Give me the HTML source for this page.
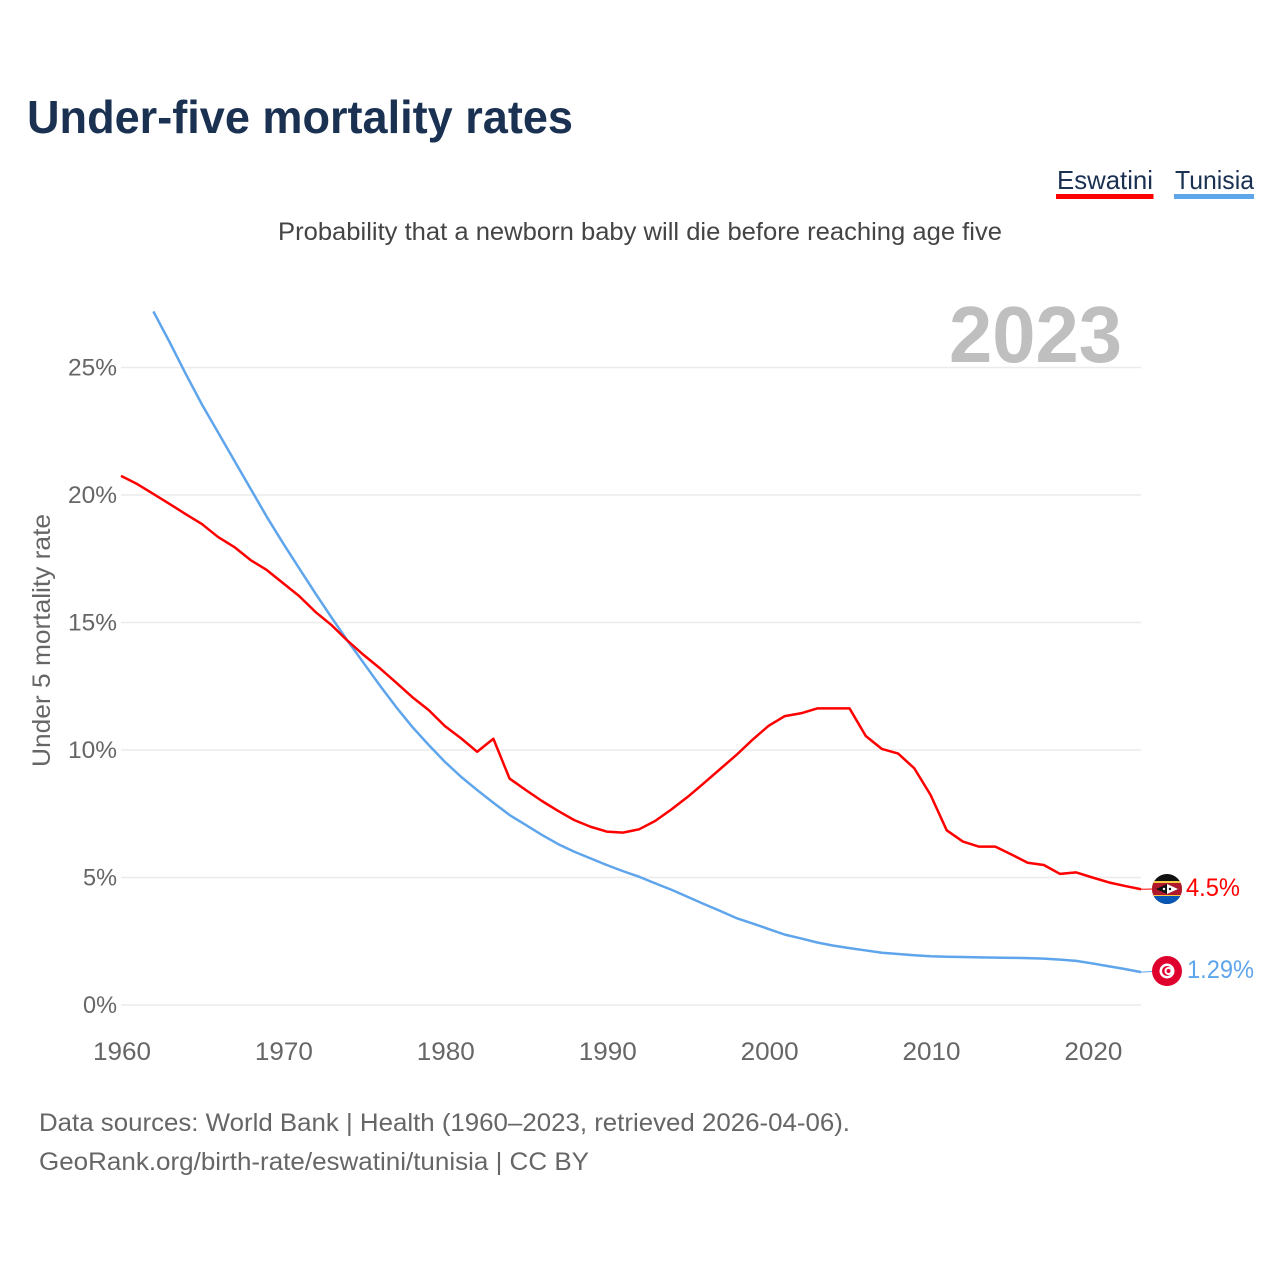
<!DOCTYPE html>
<html lang="en">
<head>
<meta charset="utf-8">
<title>Under-five mortality rates</title>
<style>
html,body{margin:0;padding:0;background:#fff;}
svg{display:block;}
text{font-family:"Liberation Sans",sans-serif;}
</style>
</head>
<body>
<svg id="chart" xmlns="http://www.w3.org/2000/svg" width="1280" height="1280" viewBox="0 0 1280 1280">
  <defs>
    <clipPath id="flag-clip-sz"><circle cx="1167" cy="889" r="15"/></clipPath>
    <clipPath id="flag-clip-tn"><circle cx="1167" cy="971" r="15"/></clipPath>
  </defs>
  <rect width="1280" height="1280" fill="#fff"/>
  <text x="27" y="133" font-size="46" font-weight="700" fill="#1a3152" textLength="546" lengthAdjust="spacingAndGlyphs">Under-five mortality rates</text>
  <text x="1057" y="189" font-size="26" fill="#1a3152" textLength="96" lengthAdjust="spacingAndGlyphs">Eswatini</text>
  <rect x="1056" y="194" width="97.5" height="5" fill="#ff0000"/>
  <text x="1175" y="189" font-size="26" fill="#1a3152" textLength="79" lengthAdjust="spacingAndGlyphs">Tunisia</text>
  <rect x="1174" y="194" width="80" height="5" fill="#5fa5ec"/>
  <text x="278" y="240" font-size="25" fill="#444" textLength="724" lengthAdjust="spacingAndGlyphs">Probability that a newborn baby will die before reaching age five</text>
  <g id="grid"></g>
  <g id="y-ticks"></g>
  <g id="x-ticks"></g>
  <text transform="translate(50,640.5) rotate(-90)" text-anchor="middle" font-size="25" fill="#666" textLength="253" lengthAdjust="spacingAndGlyphs">Under 5 mortality rate</text>
  <text x="949" y="362" font-size="80" font-weight="700" fill="#bfbfbf" textLength="173" lengthAdjust="spacingAndGlyphs">2023</text>
  <g id="series"></g>

  <g clip-path="url(#flag-clip-sz)">
    <rect x="1152" y="874" width="30" height="30" fill="#111"/>
    <rect x="1152" y="881" width="30" height="16" fill="#f6c945"/>
    <rect x="1152" y="883" width="30" height="12" fill="#b0182c"/>
    <rect x="1152" y="896" width="30" height="8" fill="#0a56b4"/>
    <path d="M1156 889 L1167 884 L1178 889 L1167 894 Z" fill="#111"/>
    <path d="M1167 884 L1178 889 L1167 894 Z" fill="#fff"/>
    <circle cx="1164" cy="889" r="1.2" fill="#fff"/>
    <circle cx="1170" cy="889" r="1.2" fill="#111"/>
  </g>
  <g clip-path="url(#flag-clip-tn)">
    <rect x="1152" y="956" width="30" height="30" fill="#e0002d"/>
    <circle cx="1167" cy="971" r="7.5" fill="#fff"/>
    <circle cx="1167" cy="971" r="5" fill="#e0002d"/>
    <circle cx="1168.5" cy="971" r="4" fill="#fff"/>
    <circle cx="1168.5" cy="971" r="2" fill="#e0002d"/>
  </g>
  <g id="end-labels"></g>

  <text x="39" y="1131" font-size="25" fill="#666" textLength="811" lengthAdjust="spacingAndGlyphs">Data sources: World Bank | Health (1960–2023, retrieved 2026-04-06).</text>
  <text x="39" y="1170" font-size="25" fill="#666" textLength="550" lengthAdjust="spacingAndGlyphs">GeoRank.org/birth-rate/eswatini/tunisia | CC BY</text>
</svg>
<script>
const firstYear = 1960;
const eswatiniValues = [20.75,20.43,20.04,19.65,19.25,18.86,18.35,17.96,17.45,17.06,16.55,16.04,15.42,14.9,14.28,13.72,13.2,12.64,12.07,11.57,10.94,10.46,9.93,10.44,8.88,8.43,8.0,7.61,7.25,6.99,6.8,6.76,6.89,7.22,7.67,8.16,8.7,9.25,9.8,10.4,10.95,11.33,11.44,11.63,11.63,11.63,10.55,10.04,9.86,9.28,8.24,6.85,6.41,6.21,6.21,5.9,5.58,5.49,5.14,5.2,5.0,4.81,4.67,4.54];
const tunisiaStartYear = 1962;
const tunisiaValues = [27.2,26.0,24.75,23.55,22.45,21.35,20.25,19.15,18.12,17.13,16.15,15.2,14.28,13.4,12.52,11.68,10.9,10.2,9.54,8.95,8.43,7.93,7.45,7.06,6.67,6.31,6.01,5.75,5.49,5.25,5.03,4.77,4.52,4.24,3.96,3.69,3.41,3.2,2.98,2.76,2.61,2.45,2.33,2.23,2.14,2.05,2.0,1.95,1.91,1.89,1.88,1.87,1.86,1.85,1.84,1.82,1.78,1.73,1.63,1.52,1.41,1.29];
const yTickValues = [0,5,10,15,20,25];
const yTickLabels = ["0%","5%","10%","15%","20%","25%"];
const xTickYears = [1960,1970,1980,1990,2000,2010,2020];
const xTickLabels = ["1960","1970","1980","1990","2000","2010","2020"];
const eswatiniEndLabel = "4.5%";
const tunisiaEndLabel = "1.29%";

const NS = "http://www.w3.org/2000/svg";
const xOf = function (year) { return 121 + (year - 1960) * (1020 / 63); };
const yOf = function (value) { return 1005 - value * 25.5; };

function svgEl(tag, parentId) {
  const el = document.createElementNS(NS, tag);
  document.getElementById(parentId).appendChild(el);
  return el;
}

yTickValues.forEach(function (v, i) {
  const line = svgEl("line", "grid");
  
  
  line.setAttribute("x1", 121);
  line.setAttribute("x2", 1141);
  line.setAttribute("y1", yOf(v));
  line.setAttribute("y2", yOf(v));
  line.setAttribute("stroke", "#ebebeb");
  line.setAttribute("stroke-width", 1.5);

  const label = svgEl("text", "y-ticks");
  
  
  label.setAttribute("x", 117);
  label.setAttribute("y", yOf(v) + 7.8);
  label.setAttribute("text-anchor", "end");
  label.setAttribute("font-size", 24);
  label.setAttribute("fill", "#666");
  label.setAttribute("textLength", yTickLabels[i].length === 3 ? 49 : 34);
  label.setAttribute("lengthAdjust", "spacingAndGlyphs");
  label.textContent = yTickLabels[i];
});

xTickYears.forEach(function (yr, i) {
  const label = svgEl("text", "x-ticks");
  
  
  label.setAttribute("x", xOf(yr) + 1);
  label.setAttribute("y", 1060);
  label.setAttribute("text-anchor", "middle");
  label.setAttribute("font-size", 25);
  label.setAttribute("fill", "#666");
  label.setAttribute("textLength", 58);
  label.setAttribute("lengthAdjust", "spacingAndGlyphs");
  label.textContent = xTickLabels[i];
});

function pathFor(values, startYear) {
  return values.map(function (v, i) {
    return (i ? "L" : "M") + xOf(startYear + i).toFixed(2) + " " + yOf(v).toFixed(2);
  }).join(" ");
}

const tunisiaLine = svgEl("path", "series");


tunisiaLine.setAttribute("d", pathFor(tunisiaValues, tunisiaStartYear));
tunisiaLine.setAttribute("fill", "none");
tunisiaLine.setAttribute("stroke", "#5fa5ec");
tunisiaLine.setAttribute("stroke-width", 2.5);
tunisiaLine.setAttribute("stroke-linejoin", "round");

const eswatiniLine = svgEl("path", "series");


eswatiniLine.setAttribute("d", pathFor(eswatiniValues, firstYear));
eswatiniLine.setAttribute("fill", "none");
eswatiniLine.setAttribute("stroke", "#ff0000");
eswatiniLine.setAttribute("stroke-width", 2.5);
eswatiniLine.setAttribute("stroke-linejoin", "round");

const eswatiniLast = eswatiniValues[eswatiniValues.length - 1];
const tunisiaLast = tunisiaValues[tunisiaValues.length - 1];

const eswatiniConnector = svgEl("line", "series");


eswatiniConnector.setAttribute("x1", xOf(2023));
eswatiniConnector.setAttribute("x2", 1152);
eswatiniConnector.setAttribute("y1", yOf(eswatiniLast));
eswatiniConnector.setAttribute("y2", 889);
eswatiniConnector.setAttribute("stroke", "#ff0000");
eswatiniConnector.setAttribute("stroke-width", 1);

const tunisiaConnector = svgEl("line", "series");


tunisiaConnector.setAttribute("x1", xOf(2023));
tunisiaConnector.setAttribute("x2", 1152);
tunisiaConnector.setAttribute("y1", yOf(tunisiaLast));
tunisiaConnector.setAttribute("y2", 971.5);
tunisiaConnector.setAttribute("stroke", "#5fa5ec");
tunisiaConnector.setAttribute("stroke-width", 1);

const eswatiniEnd = svgEl("text", "end-labels");


eswatiniEnd.setAttribute("x", 1186);
eswatiniEnd.setAttribute("y", 896);
eswatiniEnd.setAttribute("font-size", 25);
eswatiniEnd.setAttribute("fill", "#ff0000");
eswatiniEnd.setAttribute("textLength", 54);
eswatiniEnd.setAttribute("lengthAdjust", "spacingAndGlyphs");
eswatiniEnd.textContent = eswatiniEndLabel;

const tunisiaEnd = svgEl("text", "end-labels");


tunisiaEnd.setAttribute("x", 1187);
tunisiaEnd.setAttribute("y", 978);
tunisiaEnd.setAttribute("font-size", 25);
tunisiaEnd.setAttribute("fill", "#5fa5ec");
tunisiaEnd.setAttribute("textLength", 67);
tunisiaEnd.setAttribute("lengthAdjust", "spacingAndGlyphs");
tunisiaEnd.textContent = tunisiaEndLabel;
</script>
</body>
</html>
